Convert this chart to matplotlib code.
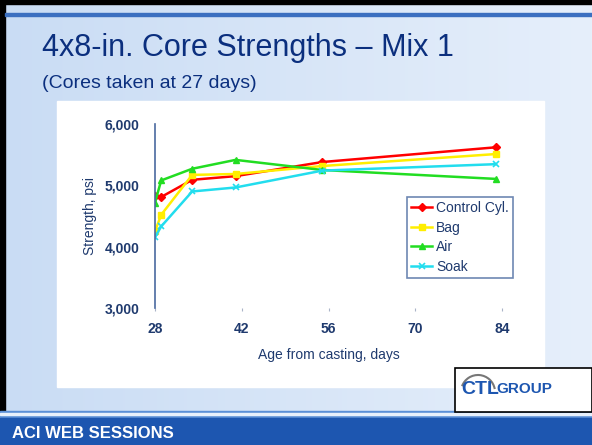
import matplotlib.pyplot as plt
import numpy as np
from matplotlib.patches import Rectangle, Arc
from matplotlib.colors import LinearSegmentedColormap
from matplotlib.ticker import FuncFormatter

plt.rcParams['font.family'] = ['Liberation Sans', 'DejaVu Sans']

# data
days = [28, 29, 34, 41, 55, 83]
control = [4830, 4810, 5090, 5150, 5380, 5620]
bag = [4250, 4520, 5170, 5185, 5315, 5510]
air = [4720, 5080, 5270, 5415, 5250, 5105]
soak = [4155, 4330, 4900, 4965, 5240, 5345]
series_names = ['Control Cyl.', 'Bag', 'Air', 'Soak']
xticks = [28, 42, 56, 70, 84]
yticks = [3000, 4000, 5000, 6000]

navy = '#1f3a6e'

fig = plt.figure(figsize=(5.92, 4.45), dpi=100)

# slide background
bg = fig.add_axes([0, 0, 1, 1])
bg.set_xlim(0, 592)
bg.set_ylim(445, 0)
bg.axis('off')
grad = np.linspace(0, 1, 256)[None, :]
bg.imshow(grad, extent=[0, 592, 445, 0], aspect='auto',
          cmap=LinearSegmentedColormap.from_list('b', ['#c9dcf4', '#e6effb']))
bg.add_patch(Rectangle((0, 0), 592, 4, color='black'))
bg.add_patch(Rectangle((0, 0), 5, 445, color='black'))
bg.add_patch(Rectangle((5, 13), 587, 3, color='#3b6fc0'))
bg.add_patch(Rectangle((57, 101), 487, 286, color='white'))
bg.add_patch(Rectangle((0, 411), 592, 7, color='#5b8fd6'))
bg.add_patch(Rectangle((0, 413), 592, 2, color='#e8f0fb'))
bg.add_patch(Rectangle((0, 418), 592, 27, color='#1d56b0'))
bg.add_patch(Rectangle((455, 368), 137, 44, facecolor='white', edgecolor='black', lw=1.2))
bg.add_patch(Arc((478, 392), 34, 34, theta1=200, theta2=350, color='#777777', lw=1.5))
bg.text(461, 389, 'CTL', color='#1d56b0', fontsize=14, fontweight='bold', va='center')
bg.text(496, 389, 'GROUP', color='#1d56b0', fontsize=11, fontweight='bold', va='center')
bg.text(42, 48, '4x8-in. Core Strengths \u2013 Mix 1', color='#0b2f7e', fontsize=22, va='center')
bg.text(42, 83, '(Cores taken at 27 days)', color='#0b2f7e', fontsize=14, va='center')
bg.text(12, 433, 'ACI WEB SESSIONS', color='white', fontsize=12, fontweight='bold', va='center')

ax = fig.add_axes([155 / 592, 1 - 308 / 445, 347 / 592, 184 / 445])
ax.patch.set_alpha(0)
ax.plot(days, control, color='#ff0000', lw=1.8, marker='D', ms=4, label=series_names[0])
ax.plot(days, bag, color='#ffee00', lw=1.8, marker='s', ms=5, label=series_names[1])
ax.plot(days, air, color='#22dd22', lw=1.8, marker='^', ms=5, label=series_names[2])
ax.plot(days, soak, color='#22ddee', lw=1.8, marker='x', ms=5, mew=1.2, label=series_names[3])

ax.set_xlim(28, 84)
ax.set_ylim(3000, 6000)
ax.set_xticks(xticks)
ax.set_yticks(yticks)
ax.yaxis.set_major_formatter(FuncFormatter(lambda v, p: f'{int(v):,}'))
for s in ['top', 'right', 'bottom']:
    ax.spines[s].set_visible(False)
ax.spines['left'].set_color('#4a6aa0')
ax.spines['left'].set_linewidth(1.2)
ax.tick_params(axis='x', length=2, color='#aab4c8', labelsize=10, labelcolor=navy, pad=8)
ax.tick_params(axis='y', length=0, labelsize=10, labelcolor=navy, pad=11)
for t in ax.get_xticklabels() + ax.get_yticklabels():
    t.set_fontweight('bold')
ax.set_xlabel('Age from casting, days', color=navy, fontsize=10, labelpad=9)
ax.set_ylabel('Strength, psi', color=navy, fontsize=10, labelpad=6)

leg = ax.legend(loc='upper left', bbox_to_anchor=(252 / 347, 1 - 73 / 184), fontsize=10,
                frameon=True, fancybox=False, handlelength=1.5, handletextpad=0.3,
                borderpad=0.3, labelspacing=0.4, borderaxespad=0, labelcolor=navy)
leg.get_frame().set_edgecolor('#4a6aa0')
leg.get_frame().set_linewidth(1.2)

plt.savefig('out.png', dpi=100)
